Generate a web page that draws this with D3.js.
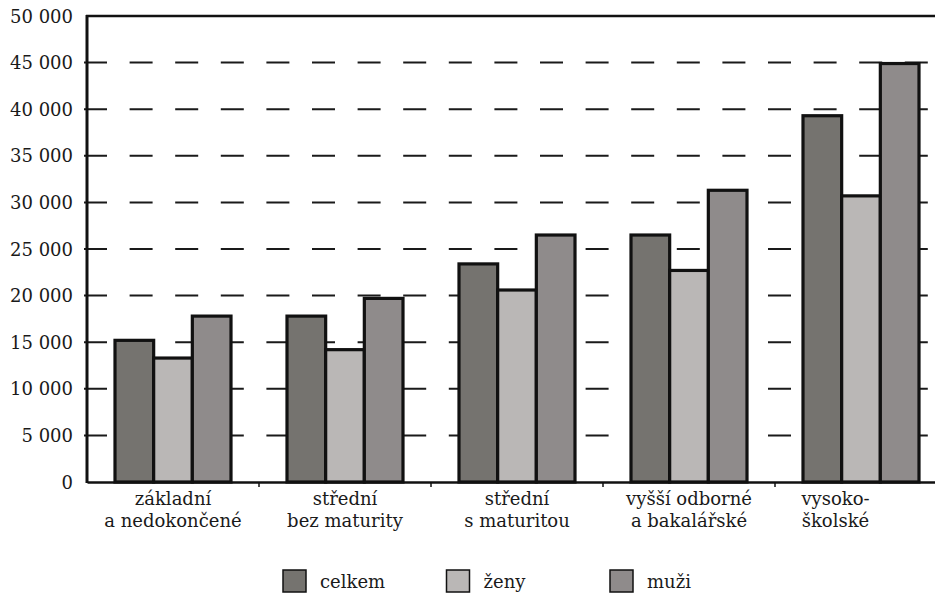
<!DOCTYPE html>
<html>
<head>
<meta charset="utf-8">
<script src="https://cdn.jsdelivr.net/npm/d3@7"></script>
<style>
  html, body { margin: 0; padding: 0; background: #fff; }
  svg { display: block; }
  text { font-family: "DejaVu Serif", "Liberation Serif", serif; fill: #1a1a1a; }
</style>
</head>
<body>
<svg id="chart" width="935" height="602"></svg>
<script>
// Průměrná hrubá mzda podle vzdělání (Kč)
const categories = [
  ["základní", "a nedokončené"],
  ["střední", "bez maturity"],
  ["střední", "s maturitou"],
  ["vyšší odborné", "a bakalářské"],
  ["vysoko-", "školské"]
];
const seriesNames = ["celkem", "ženy", "muži"];
const celkem = [15200, 17800, 23400, 26500, 39300];
const zeny   = [13300, 14200, 20600, 22700, 30700];
const muzi   = [17800, 19700, 26500, 31300, 44900];
const yTicks = [0, 5000, 10000, 15000, 20000, 25000, 30000, 35000, 40000, 45000, 50000];

const colors = { "celkem": "#75736f", "ženy": "#bab7b6", "muži": "#8f8b8b" };
const values = { "celkem": celkem, "ženy": zeny, "muži": muzi };

const svg = d3.select("#chart");
const W = 935;
const plotLeft = 87, plotTop = 16, plotBottom = 482;
const labelRight = 896; // labels of the last, partly visible group stay inside the frame

const x0 = d3.scaleBand()
  .domain(d3.range(categories.length))
  .range([plotLeft, plotLeft + 172 * categories.length]);
const x1 = d3.scaleBand()
  .domain(seriesNames)
  .range([28, x0.bandwidth() - 28]);
const y = d3.scaleLinear().domain([0, 50000]).range([plotBottom, plotTop]);

const fmt = v => d3.format(",")(v).replace(/,/g, " ");

// dashed gridlines
svg.append("g")
  .selectAll("line")
  .data(yTicks.filter(t => t > 0 && t < 50000))
  .join("line")
  .attr("x1", plotLeft - 3).attr("x2", W)
  .attr("y1", d => y(d)).attr("y2", d => y(d))
  .attr("stroke", "#1a1a1a")
  .attr("stroke-width", 2)
  .attr("stroke-dasharray", "23 22.6");

// y axis labels
const yAxis = d3.axisLeft(y).tickValues(yTicks).tickFormat(fmt).tickSize(0).tickPadding(14);
const gy = svg.append("g").attr("transform", `translate(${plotLeft},0)`).call(yAxis);
gy.select(".domain").remove();
gy.selectAll("text")
  .attr("font-size", 18)
  .attr("font-family", "DejaVu Serif")
  .attr("fill", "#1a1a1a")
  .attr("dy", "0.34em");

// bars
const groups = svg.append("g")
  .selectAll("g")
  .data(categories.map((c, i) => i))
  .join("g")
  .attr("transform", i => `translate(${x0(i)},0)`);

groups.selectAll("rect")
  .data(i => seriesNames.map(s => ({ s, v: values[s][i] })))
  .join("rect")
  .attr("x", d => x1(d.s))
  .attr("width", x1.bandwidth())
  .attr("y", d => y(d.v))
  .attr("height", d => y(0) - y(d.v))
  .attr("fill", d => colors[d.s])
  .attr("stroke", "#111")
  .attr("stroke-width", 3.2);

// frame: left axis, top line, bottom axis
svg.append("line").attr("x1", plotLeft).attr("x2", plotLeft).attr("y1", plotTop - 1).attr("y2", plotBottom + 1)
  .attr("stroke", "#111").attr("stroke-width", 3);
svg.append("line").attr("x1", plotLeft - 1).attr("x2", W).attr("y1", plotTop).attr("y2", plotTop)
  .attr("stroke", "#111").attr("stroke-width", 2.5);

const xAxis = d3.axisBottom(x0).tickSize(0).tickFormat("");
const gx = svg.append("g").attr("transform", `translate(0,${plotBottom})`).call(xAxis);
gx.select(".domain").attr("stroke", "#111").attr("stroke-width", 2.5);
gx.selectAll(".tick").remove();

// category separators on the x axis
svg.append("g")
  .selectAll("line")
  .data(d3.range(1, categories.length))
  .join("line")
  .attr("x1", i => x0(i)).attr("x2", i => x0(i))
  .attr("y1", plotBottom).attr("y2", plotBottom + 5)
  .attr("stroke", "#111").attr("stroke-width", 1.5);

// category labels, centred on the visible part of each band
const labelX = i => (x0(i) + Math.min(x0(i) + x0.bandwidth(), labelRight)) / 2;
const labels = svg.append("g")
  .selectAll("text")
  .data(categories)
  .join("text")
  .attr("text-anchor", "middle")
  .attr("font-size", 18)
  .attr("x", (d, i) => labelX(i))
  .attr("y", 505);
labels.selectAll("tspan")
  .data(d => d)
  .join("tspan")
  .attr("x", function () { return this.parentNode.getAttribute("x"); })
  .attr("dy", (d, j) => j === 0 ? 0 : 22)
  .text(d => d);

// legend
const legendX = d3.scalePoint().domain(seriesNames).range([283, 610]);
const leg = svg.append("g")
  .selectAll("g")
  .data(seriesNames)
  .join("g")
  .attr("transform", d => `translate(${legendX(d)},570)`);
leg.append("rect")
  .attr("width", 23).attr("height", 22)
  .attr("fill", d => colors[d])
  .attr("stroke", "#111").attr("stroke-width", 1.5);
leg.append("text")
  .attr("x", 37).attr("y", 18)
  .attr("font-size", 18)
  .text(d => d);
</script>
</body>
</html>
